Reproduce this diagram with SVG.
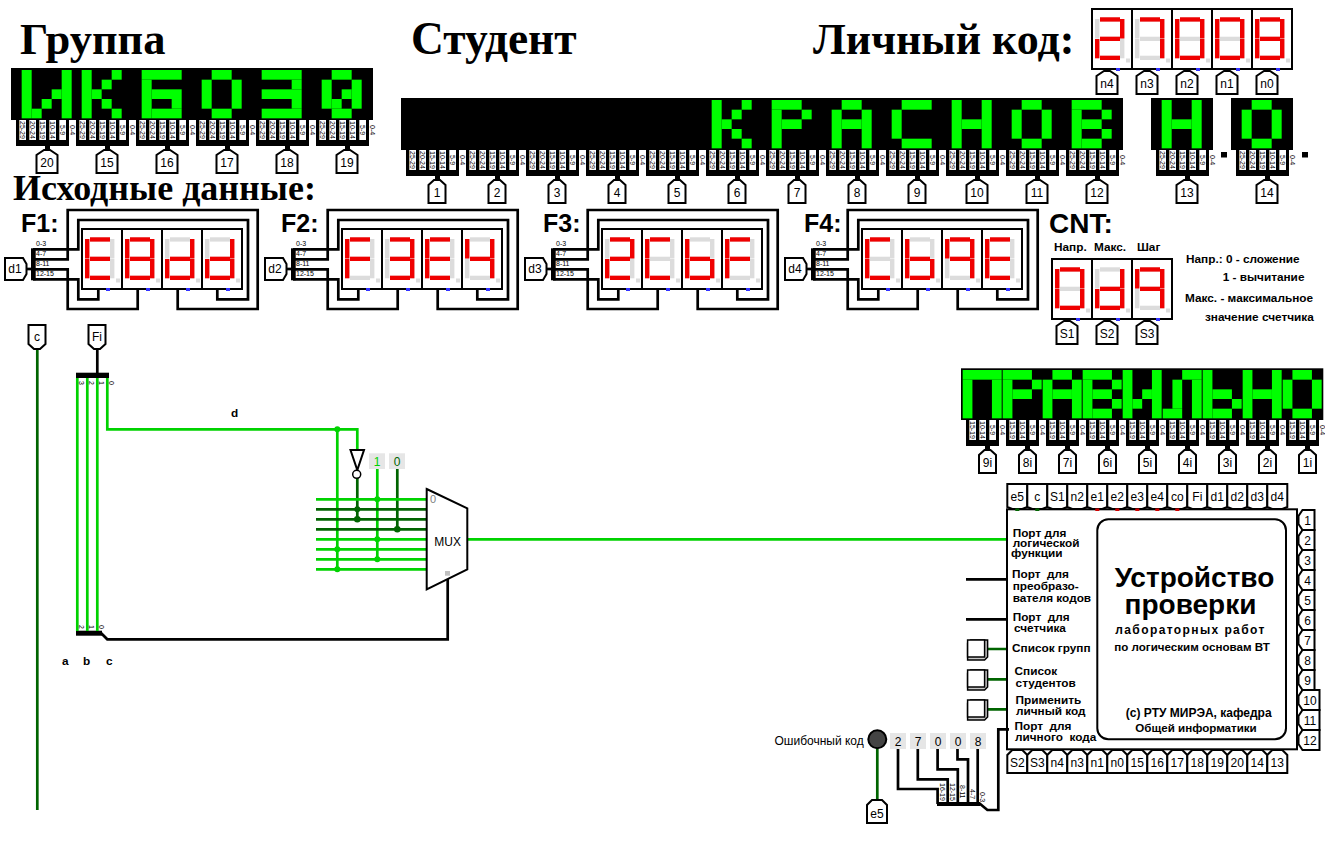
<svg xmlns="http://www.w3.org/2000/svg" width="1325" height="868" viewBox="0 0 1325 868">
<style>
text{font-family:"Liberation Sans",Arial,sans-serif;fill:#000;white-space:pre}
.t{font-family:"Liberation Serif","Times New Roman",serif;font-weight:bold}
.b{font-weight:bold}
.dv{font-size:11.8px;font-weight:bold}
.l{font-size:12px;text-anchor:middle}
.s{font-size:7px}
.w,.g,.dg{fill:none;stroke-width:2.7}
.w{stroke:#000}.g{stroke:#00d200}.dg{stroke:#006400}
.f{fill:#0f0}.gj{fill:#00d200}.dj{fill:#006400}
.p{fill:#fff;stroke:#000;stroke-width:2}
.on{fill:#f00000}.off{fill:#dcdcdc}
</style>
<defs>
<!-- seven segment -->
<rect id="sa" x="8" y="8.3" width="20" height="4.3"/>
<rect id="sb" x="28" y="10" width="4.4" height="19.5"/>
<rect id="sc" x="28" y="30" width="4.4" height="19.3"/>
<rect id="sd" x="8" y="46.7" width="20" height="4.3"/>
<rect id="se" x="3" y="30" width="4.4" height="19.3"/>
<rect id="sf" x="3" y="10" width="4.4" height="19.5"/>
<rect id="sg" x="8" y="27.7" width="20" height="4.3"/>
<g id="base">
<rect width="40" height="60" fill="#fff" stroke="#000" stroke-width="2"/>
<g class="off"><use href="#sa"/><use href="#sb"/><use href="#sc"/><use href="#sd"/><use href="#se"/><use href="#sf"/><use href="#sg"/><rect x="34" y="49.5" width="4" height="4"/></g>
<rect x="24" y="59" width="4" height="3" fill="#3333ff"/>
</g>
<g id="D0"><use href="#base"/><g class="on"><use href="#sa"/><use href="#sb"/><use href="#sc"/><use href="#sd"/><use href="#se"/><use href="#sf"/></g></g>
<g id="D2"><use href="#base"/><g class="on"><use href="#sa"/><use href="#sb"/><use href="#sg"/><use href="#se"/><use href="#sd"/></g></g>
<g id="D3"><use href="#base"/><g class="on"><use href="#sa"/><use href="#sb"/><use href="#sg"/><use href="#sc"/><use href="#sd"/></g></g>
<g id="D4"><use href="#base"/><g class="on"><use href="#sf"/><use href="#sg"/><use href="#sb"/><use href="#sc"/></g></g>
<g id="D7"><use href="#base"/><g class="on"><use href="#sa"/><use href="#sb"/><use href="#sc"/></g></g>
<g id="D8"><use href="#base"/><g class="on"><use href="#sa"/><use href="#sb"/><use href="#sc"/><use href="#sd"/><use href="#se"/><use href="#sf"/><use href="#sg"/></g></g>
<g id="D9"><use href="#base"/><g class="on"><use href="#sa"/><use href="#sb"/><use href="#sc"/><use href="#sf"/><use href="#sg"/></g></g>
<g id="Db"><use href="#base"/><g class="on"><use href="#sf"/><use href="#sg"/><use href="#se"/><use href="#sd"/><use href="#sc"/></g></g>
<g id="DC"><use href="#base"/><g class="on"><use href="#sa"/><use href="#sf"/><use href="#se"/><use href="#sd"/></g></g>
<g id="Dd"><use href="#base"/><g class="on"><use href="#sb"/><use href="#sc"/><use href="#sg"/><use href="#se"/><use href="#sd"/></g></g>
<g id="DE"><use href="#base"/><g class="on"><use href="#sa"/><use href="#sf"/><use href="#sg"/><use href="#se"/><use href="#sd"/></g></g>
<g id="DF"><use href="#base"/><g class="on"><use href="#sa"/><use href="#sf"/><use href="#sg"/><use href="#se"/></g></g>
<!-- LED matrix cells -->
<g id="mI5" class="f"><rect width="1" height="5"/><rect x="1" y="4" width="1" height="1"/><rect x="2" y="3" width="1" height="1"/><rect x="3" y="2" width="1" height="1"/><rect x="4" width="1" height="5"/></g>
<g id="mI" class="f"><rect width="1" height="5"/><rect x="3" width="1" height="5"/><rect x="2" y="2" width="1" height="1"/><rect x="1" y="3" width="1" height="1"/></g>
<g id="mK" class="f"><rect width="1" height="5"/><rect x="3" width="1" height="1"/><rect x="2" y="1" width="1" height="1"/><rect x="1" y="2" width="1" height="1"/><rect x="2" y="3" width="1" height="1"/><rect x="3" y="4" width="1" height="1"/></g>
<g id="m6" class="f"><rect width="4" height="1"/><rect y="1" width="1" height="4"/><rect x="1" y="2" width="3" height="1"/><rect x="3" y="3" width="1" height="1"/><rect x="1" y="4" width="3" height="1"/></g>
<g id="mO" class="f"><rect x="1" width="2" height="1"/><rect y="1" width="1" height="3"/><rect x="3" y="1" width="1" height="3"/><rect x="1" y="4" width="2" height="1"/></g>
<g id="mZ" class="f"><rect width="4" height="1"/><rect x="3" y="1" width="1" height="1"/><rect y="2" width="4" height="1"/><rect x="3" y="3" width="1" height="1"/><rect y="4" width="4" height="1"/></g>
<g id="mQ"><use href="#mO"/><g class="f"><rect x="2" y="2" width="1" height="1"/><rect x="1" y="3" width="1" height="1"/></g></g>
<g id="mR" class="f"><rect width="3" height="1"/><rect x="3" y="1" width="1" height="1"/><rect y="1" width="1" height="4"/><rect x="1" y="2" width="2" height="1"/></g>
<g id="mA" class="f"><rect x="1" width="2" height="1"/><rect y="1" width="1" height="4"/><rect x="3" y="1" width="1" height="4"/><rect x="1" y="2" width="2" height="1"/></g>
<g id="mC" class="f"><rect x="1" width="3" height="1"/><rect y="1" width="1" height="3"/><rect x="1" y="4" width="3" height="1"/></g>
<g id="mH" class="f"><rect width="1" height="5"/><rect x="3" width="1" height="5"/><rect x="1" y="2" width="2" height="1"/></g>
<g id="mB" class="f"><rect width="3" height="1"/><rect y="1" width="1" height="4"/><rect x="3" y="1" width="1" height="1"/><rect x="1" y="2" width="2" height="1"/><rect x="3" y="3" width="1" height="1"/><rect x="1" y="4" width="2" height="1"/></g>
<g id="mP" class="f"><rect width="4" height="1"/><rect y="1" width="1" height="4"/><rect x="3" y="1" width="1" height="4"/></g>
<g id="mL" class="f"><rect x="2" width="2" height="1"/><rect x="1" y="1" width="1" height="3"/><rect x="3" y="1" width="1" height="4"/><rect y="4" width="2" height="1"/></g>
<g id="mS" class="f"><rect width="1" height="5"/><rect x="1" y="2" width="2" height="1"/><rect x="3" y="3" width="1" height="1"/><rect x="1" y="4" width="2" height="1"/></g>
<!-- pin blocks -->
<g id="pins6">
<rect width="53" height="26"/><rect x="29" y="26" width="5" height="4"/>
<g fill="#fff"><rect x="3.3" width="6.7" height="20"/><rect x="13.3" width="6.7" height="20"/><rect x="23.3" width="6.7" height="20"/><rect x="33.3" width="6.7" height="20"/><rect x="43.3" width="6.7" height="20"/></g>
<g class="s"><text transform="translate(4.3,1) rotate(90)">25-29</text><text transform="translate(14.3,1) rotate(90)">20-24</text><text transform="translate(24.3,1) rotate(90)">15-19</text><text transform="translate(34.3,1) rotate(90)">10-14</text><text transform="translate(44.3,5) rotate(90)">5-9</text><text transform="translate(54.3,5) rotate(90)">0-4</text></g>
</g>
<g id="pins4">
<rect width="33" height="26"/><rect x="19" y="26" width="5" height="4"/>
<g fill="#fff"><rect x="3.3" width="6.7" height="20"/><rect x="13.3" width="6.7" height="20"/><rect x="23.3" width="6.7" height="20"/></g>
<g class="s"><text transform="translate(4.3,1) rotate(90)">15-19</text><text transform="translate(14.3,1) rotate(90)">10-14</text><text transform="translate(24.3,5) rotate(90)">5-9</text><text transform="translate(34.3,5) rotate(90)">0-4</text></g>
</g>
<!-- tunnels -->
<polygon id="tu" class="p" points="-8.5,23 -8.5,5 -3,0 3,0 8.5,5 8.5,23"/>
<polygon id="tw" class="p" points="-10.5,23 -10.5,5 -3,0 3,0 10.5,5 10.5,23"/>
<polygon id="tb" class="p" points="-10,0 -10,23 -5,25 5,25 10,23 10,0"/>
<polygon id="tB" class="p" points="-10,23 -10,5 -5,0 5,0 10,5 10,23"/>
<polygon id="tr" class="p" points="16,-10 4,-10 0,-4 0,4 4,10 16,10"/>
<polygon id="tR" class="p" points="21,-10 4,-10 0,-4 0,4 4,10 21,10"/>
<polygon id="td" class="p" points="-8.5,0 -8.5,19 -3,24 3,24 8.5,19 8.5,0"/>
<!-- F block wires -->
<g id="fb">
<g class="w">
<path d="M33 249.3H78.3V220H248V299.3H217.3V290"/>
<path d="M33 259.3H67.7V210H257.7V309H177.7V290"/>
<path d="M33 269.3H67.7V309H137.7V290"/>
<path d="M33 279.3H78.3V299.3H98.3V290"/>
<path d="M26 269H33"/>
</g>
<rect x="31" y="248.3" width="4.7" height="32"/>
<g class="s"><text x="36" y="245.5">0-3</text><text x="36" y="255.5">4-7</text><text x="36" y="265.5">8-11</text><text x="36" y="275.5">12-15</text></g>
</g>
<g id="btn"><polygon points="0,3 3,0 20,0 20,17 17,20 0,20" fill="#c8c8c8" stroke="#000" stroke-width="1.5"/><rect x="0" y="0" width="17" height="17" fill="#fff" stroke="#000" stroke-width="1.5"/></g>
</defs>

<rect width="1325" height="868" fill="#fff"/>

<g id="titles">
<text class="t" x="20" y="54" font-size="44.5">Группа</text>
<text class="t" x="411" y="54" font-size="45.5">Студент</text>
<text class="t" x="813" y="54" font-size="44">Личный код:</text>
<text class="t" x="13" y="200" font-size="36">Исходные данные:</text>
<text class="b" x="21" y="231.7" font-size="25">F1:</text>
<text class="b" x="281" y="231.7" font-size="25">F2:</text>
<text class="b" x="543" y="231.7" font-size="25">F3:</text>
<text class="b" x="804" y="231.7" font-size="25">F4:</text>
<text class="b" x="1049" y="233" font-size="28">CNT:</text>
<text class="dv" x="1054" y="251">Напр.</text>
<text class="dv" x="1094" y="251">Макс.</text>
<text class="dv" x="1137" y="251">Шаг</text>
<text class="dv" x="1186" y="263">Напр.: 0 - сложение</text>
<text class="dv" x="1222.7" y="281">1 - вычитание</text>
<text class="dv" x="1185" y="301.7">Макс. - максимальное</text>
<text class="dv" x="1205" y="320.7">значение счетчика</text>
<text class="dv" x="231" y="417">d</text>
<text class="dv" x="62" y="665">a</text>
<text class="dv" x="83" y="665">b</text>
<text class="dv" x="106" y="665">c</text>
</g>

<g id="connectors">
<path class="dg" d="M37.3 348V810"/>
<path class="w" d="M97.3 348V374"/>
<rect x="76" y="372.7" width="33" height="5.3"/>
<rect x="76" y="630.7" width="26" height="5"/>
<path class="g" d="M77.3 378V631M87.3 378V631M97.3 378V631"/>
<path class="g" d="M107.3 378V429.3H357.3V450"/>
<path class="w" d="M101 633L107.3 639.3H447.7V575"/>
<g class="s"><text transform="translate(79,381) rotate(90)">3</text><text transform="translate(89,381) rotate(90)">2</text><text transform="translate(99,381) rotate(90)">1</text><text transform="translate(109,381) rotate(90)">0</text><text transform="translate(79,625) rotate(90)">2</text><text transform="translate(89,625) rotate(90)">1</text><text transform="translate(99,625) rotate(90)">0</text></g>
<path class="g" d="M337.3 429.3V569.3M377.3 468V559.3"/>
<path class="dg" d="M357.3 478V519.3M397.3 468V529.3"/>
<path class="g" d="M316 499.3H428.3M316 539.3H428.3M316 549.3H428.3M316 559.3H428.3M316 569.3H428.3"/>
<path class="dg" d="M316 509.3H428.3M316 519.3H428.3M316 529.3H428.3"/>
<g class="gj"><circle cx="337.3" cy="429.3" r="3"/><circle cx="377.3" cy="499.3" r="3"/><circle cx="377.3" cy="539.3" r="3"/><circle cx="337.3" cy="549.3" r="3"/><circle cx="377.3" cy="559.3" r="3"/><circle cx="337.3" cy="569.3" r="3"/></g>
<g class="dj"><circle cx="357.3" cy="509.3" r="3"/><circle cx="357.3" cy="519.3" r="3.3"/><circle cx="397.3" cy="529.3" r="3.3"/></g>
<path class="g" d="M467.3 539.3H1008"/>
<path class="w" d="M966 579.3H1008M966 619.3H1008"/>
<path class="dg" d="M987 649H1008M987 679.3H1008M987 709.3H1008M877.3 749V801"/>
<path class="w" d="M898 749V789H937.6V804M917.8 749V779.3H947.7V804M937.6 749V769.3H957.8V804M957.5 749V759.3H968V804M977.7 749V804"/>
<rect x="937" y="802" width="43" height="4"/>
<path class="w" d="M979 803L987.4 810H998.3V729.3H1009"/>
<g class="s"><text transform="translate(939.5,783) rotate(90)">16-19</text><text transform="translate(949.5,783) rotate(90)">12-15</text><text transform="translate(959.5,785) rotate(90)">8-11</text><text transform="translate(969.5,789) rotate(90)">4-7</text><text transform="translate(980,792) rotate(90)">0-3</text></g>
</g>

<g id="group-display">
<rect x="11" y="68" width="362" height="52"/>
<use href="#mI5" transform="translate(21.67,70) scale(10,9.67)"/>
<use href="#mK" transform="translate(81.67,70) scale(10,9.67)"/>
<use href="#m6" transform="translate(141.67,70) scale(10,9.67)"/>
<use href="#mO" transform="translate(201.67,70) scale(10,9.67)"/>
<use href="#mZ" transform="translate(261.67,70) scale(10,9.67)"/>
<use href="#mQ" transform="translate(321.67,70) scale(10,9.67)"/>
<use href="#pins6" x="16" y="120"/><use href="#pins6" x="76" y="120"/><use href="#pins6" x="136" y="120"/><use href="#pins6" x="196" y="120"/><use href="#pins6" x="256" y="120"/><use href="#pins6" x="316" y="120"/>
</g>
<g id="n20"><use href="#tw" x="47" y="150"/><text class="l" x="47" y="167">20</text></g>
<g id="n15"><use href="#tw" x="107" y="150"/><text class="l" x="107" y="167">15</text></g>
<g id="n16"><use href="#tw" x="167" y="150"/><text class="l" x="167" y="167">16</text></g>
<g id="n17"><use href="#tw" x="227" y="150"/><text class="l" x="227" y="167">17</text></g>
<g id="n18"><use href="#tw" x="287" y="150"/><text class="l" x="287" y="167">18</text></g>
<g id="n19"><use href="#tw" x="347" y="150"/><text class="l" x="347" y="167">19</text></g>

<g id="student-display">
<rect x="401" y="98" width="722" height="52"/>
<rect x="1151" y="98" width="62" height="52"/>
<rect x="1231" y="98" width="62" height="52"/>
<use href="#mK" transform="translate(711.67,100) scale(10,9.67)"/>
<use href="#mR" transform="translate(771.67,100) scale(10,9.67)"/>
<use href="#mA" transform="translate(831.67,100) scale(10,9.67)"/>
<use href="#mC" transform="translate(891.67,100) scale(10,9.67)"/>
<use href="#mH" transform="translate(951.67,100) scale(10,9.67)"/>
<use href="#mO" transform="translate(1011.67,100) scale(10,9.67)"/>
<use href="#mB" transform="translate(1071.67,100) scale(10,9.67)"/>
<use href="#mH" transform="translate(1161.67,100) scale(10,9.67)"/>
<use href="#mO" transform="translate(1241.67,100) scale(10,9.67)"/>
<use href="#pins6" x="406" y="150"/><use href="#pins6" x="466" y="150"/><use href="#pins6" x="526" y="150"/><use href="#pins6" x="586" y="150"/><use href="#pins6" x="646" y="150"/><use href="#pins6" x="706" y="150"/><use href="#pins6" x="766" y="150"/><use href="#pins6" x="826" y="150"/><use href="#pins6" x="886" y="150"/><use href="#pins6" x="946" y="150"/><use href="#pins6" x="1006" y="150"/><use href="#pins6" x="1066" y="150"/><use href="#pins6" x="1156" y="150"/><use href="#pins6" x="1236" y="150"/>
<rect x="1221" y="152" width="6" height="5.5"/>
<rect x="1302" y="152" width="6" height="5.5"/>
</g>
<g id="s1"><use href="#tu" x="437" y="180"/><text class="l" x="437" y="197">1</text></g>
<g id="s2"><use href="#tu" x="497" y="180"/><text class="l" x="497" y="197">2</text></g>
<g id="s3"><use href="#tu" x="557" y="180"/><text class="l" x="557" y="197">3</text></g>
<g id="s4"><use href="#tu" x="617" y="180"/><text class="l" x="617" y="197">4</text></g>
<g id="s5"><use href="#tu" x="677" y="180"/><text class="l" x="677" y="197">5</text></g>
<g id="s6"><use href="#tu" x="737" y="180"/><text class="l" x="737" y="197">6</text></g>
<g id="s7"><use href="#tu" x="797" y="180"/><text class="l" x="797" y="197">7</text></g>
<g id="s8"><use href="#tu" x="857" y="180"/><text class="l" x="857" y="197">8</text></g>
<g id="s9"><use href="#tu" x="917" y="180"/><text class="l" x="917" y="197">9</text></g>
<g id="s10"><use href="#tw" x="977" y="180"/><text class="l" x="977" y="197">10</text></g>
<g id="s11"><use href="#tw" x="1037" y="180"/><text class="l" x="1037" y="197">11</text></g>
<g id="s12"><use href="#tw" x="1097" y="180"/><text class="l" x="1097" y="197">12</text></g>
<g id="s13"><use href="#tw" x="1187" y="180"/><text class="l" x="1187" y="197">13</text></g>
<g id="s14"><use href="#tw" x="1267" y="180"/><text class="l" x="1267" y="197">14</text></g>

<g id="personal-code"><use href="#D2" x="1092" y="9"/><use href="#D7" x="1132" y="9"/><use href="#D0" x="1172" y="9"/><use href="#D0" x="1212" y="9"/><use href="#D8" x="1252" y="9"/></g>
<g id="n4"><use href="#tw" x="1107" y="71"/><text class="l" x="1107" y="88">n4</text></g>
<g id="n3"><use href="#tw" x="1147" y="71"/><text class="l" x="1147" y="88">n3</text></g>
<g id="n2"><use href="#tw" x="1187" y="71"/><text class="l" x="1187" y="88">n2</text></g>
<g id="n1"><use href="#tw" x="1227" y="71"/><text class="l" x="1227" y="88">n1</text></g>
<g id="n0"><use href="#tw" x="1267" y="71"/><text class="l" x="1267" y="88">n0</text></g>

<g id="F1"><use href="#fb"/><use href="#DE" x="82" y="229"/><use href="#D8" x="122" y="229"/><use href="#Dd" x="162" y="229"/><use href="#Dd" x="202" y="229"/><polygon class="p" points="5,258 23,258 26.5,264 26.5,274 23,280 5,280"/><text class="l" x="15" y="273">d1</text></g>
<g id="F2" transform="translate(260)"><use href="#fb"/><use href="#DF" x="82" y="229"/><use href="#D3" x="122" y="229"/><use href="#DE" x="162" y="229"/><use href="#D4" x="202" y="229"/><polygon class="p" points="5,258 23,258 26.5,264 26.5,274 23,280 5,280"/><text class="l" x="15" y="273">d2</text></g>
<g id="F3" transform="translate(520)"><use href="#fb"/><use href="#D2" x="82" y="229"/><use href="#DC" x="122" y="229"/><use href="#Db" x="162" y="229"/><use href="#DF" x="202" y="229"/><polygon class="p" points="5,258 23,258 26.5,264 26.5,274 23,280 5,280"/><text class="l" x="15" y="273">d3</text></g>
<g id="F4" transform="translate(780)"><use href="#fb"/><use href="#DC" x="82" y="229"/><use href="#Db" x="122" y="229"/><use href="#D9" x="162" y="229"/><use href="#DE" x="202" y="229"/><polygon class="p" points="5,258 23,258 26.5,264 26.5,274 23,280 5,280"/><text class="l" x="15" y="273">d4</text></g>

<g id="CNT"><use href="#D0" x="1052" y="259"/><use href="#Dd" x="1092" y="259"/><use href="#D9" x="1132" y="259"/></g>
<g id="S1"><use href="#tw" x="1067" y="321"/><text class="l" x="1067" y="338">S1</text></g>
<g id="S2"><use href="#tw" x="1107" y="321"/><text class="l" x="1107" y="338">S2</text></g>
<g id="S3"><use href="#tw" x="1147" y="321"/><text class="l" x="1147" y="338">S3</text></g>

<g id="c"><use href="#td" x="37" y="325"/><text class="l" x="37" y="341">c</text></g>
<g id="Fi"><use href="#td" x="97" y="325"/><text class="l" x="97" y="341">Fi</text></g>

<g id="inverter"><polygon points="350.5,450 364,450 357.3,470" fill="#fff" stroke="#000" stroke-width="2"/><circle cx="356.7" cy="474.3" r="4" fill="#fff" stroke="#000" stroke-width="1.5"/></g>
<g id="const-1"><rect x="369" y="453.3" width="16" height="15.7" fill="#e6e6e6"/><text class="l" x="377" y="466" style="fill:#00d200">1</text></g>
<g id="const-0"><rect x="389" y="453.3" width="16" height="15.7" fill="#e6e6e6"/><text class="l" x="397" y="466" style="fill:#006400">0</text></g>
<g id="mux"><polygon points="426.7,489 467.3,508.3 467.3,569.3 426.7,589.3" fill="#fff" stroke="#000" stroke-width="2"/><text class="l" x="447.7" y="546">MUX</text><text x="430" y="503" font-size="11" style="fill:#808080">0</text><rect x="445" y="571" width="5" height="4.7" fill="#c0c0c0"/></g>

<g id="correct-display">
<rect x="961" y="368.3" width="362.3" height="51.7"/>
<use href="#mP" transform="translate(962.67,370) scale(9.75,9.67)"/>
<use href="#mR" transform="translate(1002.67,370) scale(9.75,9.67)"/>
<use href="#mA" transform="translate(1042.67,370) scale(9.75,9.67)"/>
<use href="#mB" transform="translate(1082.67,370) scale(9.75,9.67)"/>
<use href="#mI" transform="translate(1122.67,370) scale(9.75,9.67)"/>
<use href="#mL" transform="translate(1162.67,370) scale(9.75,9.67)"/>
<use href="#mS" transform="translate(1202.67,370) scale(9.75,9.67)"/>
<use href="#mH" transform="translate(1242.67,370) scale(9.75,9.67)"/>
<use href="#mO" transform="translate(1282.67,370) scale(9.75,9.67)"/>
<use href="#pins4" x="966" y="420"/><use href="#pins4" x="1006" y="420"/><use href="#pins4" x="1046" y="420"/><use href="#pins4" x="1086" y="420"/><use href="#pins4" x="1126" y="420"/><use href="#pins4" x="1166" y="420"/><use href="#pins4" x="1206" y="420"/><use href="#pins4" x="1246" y="420"/><use href="#pins4" x="1286" y="420"/>
</g>
<g id="t9i"><use href="#tu" x="987.5" y="450"/><text class="l" x="987.5" y="467">9i</text></g>
<g id="t8i"><use href="#tu" x="1027.5" y="450"/><text class="l" x="1027.5" y="467">8i</text></g>
<g id="t7i"><use href="#tu" x="1067.5" y="450"/><text class="l" x="1067.5" y="467">7i</text></g>
<g id="t6i"><use href="#tu" x="1107.5" y="450"/><text class="l" x="1107.5" y="467">6i</text></g>
<g id="t5i"><use href="#tu" x="1147.5" y="450"/><text class="l" x="1147.5" y="467">5i</text></g>
<g id="t4i"><use href="#tu" x="1187.5" y="450"/><text class="l" x="1187.5" y="467">4i</text></g>
<g id="t3i"><use href="#tu" x="1227.5" y="450"/><text class="l" x="1227.5" y="467">3i</text></g>
<g id="t2i"><use href="#tu" x="1267.5" y="450"/><text class="l" x="1267.5" y="467">2i</text></g>
<g id="t1i"><use href="#tu" x="1307.5" y="450"/><text class="l" x="1307.5" y="467">1i</text></g>

<g id="device">
<rect x="1007" y="509.3" width="290" height="240" fill="none" stroke="#000" stroke-width="2"/>
<rect x="1097.3" y="519.3" width="188.7" height="220" rx="11" fill="none" stroke="#000" stroke-width="2"/>
<text class="dv" x="1012.7" y="536.7">Порт для</text>
<text class="dv" x="1012.7" y="546.7">логической</text>
<text class="dv" x="1011" y="556.7">функции</text>
<text class="dv" x="1012" y="577.7">Порт  для</text>
<text class="dv" x="1012.7" y="590">преобразо-</text>
<text class="dv" x="1012.7" y="601.7">вателя кодов</text>
<text class="dv" x="1012.7" y="621">Порт  для</text>
<text class="dv" x="1014" y="631.7">счетчика</text>
<text class="dv" x="1012" y="652">Список групп</text>
<text class="dv" x="1014.5" y="675">Список</text>
<text class="dv" x="1015.6" y="686.7">студентов</text>
<text class="dv" x="1015.6" y="704">Применить</text>
<text class="dv" x="1016" y="715">личный код</text>
<text class="dv" x="1014.5" y="730">Порт  для</text>
<text class="dv" x="1015" y="741">личного  кода</text>
<g text-anchor="middle" font-weight="bold">
<text x="1194.5" y="587" font-size="28">Устройство</text>
<text x="1190.5" y="613.5" font-size="28">проверки</text>
<text x="1190.5" y="634.3" font-size="12" letter-spacing="1.4">лабораторных работ</text>
<text x="1192" y="650.7" font-size="11.6">по логическим основам ВТ</text>
<text x="1198.7" y="717.3" font-size="12">(c) РТУ МИРЭА, кафедра</text>
<text x="1196" y="732" font-size="11.6">Общей информатики</text>
</g>
</g>

<g id="t-e5"><use href="#tb" x="1017.3" y="484"/><text class="l" x="1017.3" y="501">e5</text></g>
<g id="t-c"><use href="#tb" x="1037.3" y="484"/><text class="l" x="1037.3" y="501">c</text></g>
<g id="t-S1"><use href="#tb" x="1057.3" y="484"/><text class="l" x="1057.3" y="501">S1</text></g>
<g id="t-n2"><use href="#tb" x="1077.3" y="484"/><text class="l" x="1077.3" y="501">n2</text></g>
<g id="t-e1"><use href="#tb" x="1097.3" y="484"/><text class="l" x="1097.3" y="501">e1</text></g>
<g id="t-e2"><use href="#tb" x="1117.3" y="484"/><text class="l" x="1117.3" y="501">e2</text></g>
<g id="t-e3"><use href="#tb" x="1137.3" y="484"/><text class="l" x="1137.3" y="501">e3</text></g>
<g id="t-e4"><use href="#tb" x="1157.3" y="484"/><text class="l" x="1157.3" y="501">e4</text></g>
<g id="t-co"><use href="#tb" x="1177.3" y="484"/><text class="l" x="1177.3" y="501">co</text></g>
<g id="t-Fi"><use href="#tb" x="1197.3" y="484"/><text class="l" x="1197.3" y="501">Fi</text></g>
<g id="t-d1"><use href="#tb" x="1217.3" y="484"/><text class="l" x="1217.3" y="501">d1</text></g>
<g id="t-d2"><use href="#tb" x="1237.3" y="484"/><text class="l" x="1237.3" y="501">d2</text></g>
<g id="t-d3"><use href="#tb" x="1257.3" y="484"/><text class="l" x="1257.3" y="501">d3</text></g>
<g id="t-d4"><use href="#tb" x="1277.3" y="484"/><text class="l" x="1277.3" y="501">d4</text></g>
<g id="port-dots"><rect x="1015.3" y="508.5" width="4" height="2.5" class="dj"/><rect x="1035.3" y="508.5" width="4" height="2.5" class="dj"/><g fill="#d00000"><rect x="1095.3" y="508.5" width="4" height="2.5"/><rect x="1115.3" y="508.5" width="4" height="2.5"/><rect x="1135.3" y="508.5" width="4" height="2.5"/><rect x="1155.3" y="508.5" width="4" height="2.5"/><rect x="1175.3" y="508.5" width="4" height="2.5"/></g></g>

<g id="r1"><use href="#tr" x="1298.5" y="520"/><text class="l" x="1307.5" y="524.5">1</text></g>
<g id="r2"><use href="#tr" x="1298.5" y="540"/><text class="l" x="1307.5" y="544.5">2</text></g>
<g id="r3"><use href="#tr" x="1298.5" y="560"/><text class="l" x="1307.5" y="564.5">3</text></g>
<g id="r4"><use href="#tr" x="1298.5" y="580"/><text class="l" x="1307.5" y="584.5">4</text></g>
<g id="r5"><use href="#tr" x="1298.5" y="600"/><text class="l" x="1307.5" y="604.5">5</text></g>
<g id="r6"><use href="#tr" x="1298.5" y="620"/><text class="l" x="1307.5" y="624.5">6</text></g>
<g id="r7"><use href="#tr" x="1298.5" y="640"/><text class="l" x="1307.5" y="644.5">7</text></g>
<g id="r8"><use href="#tr" x="1298.5" y="660"/><text class="l" x="1307.5" y="664.5">8</text></g>
<g id="r9"><use href="#tr" x="1298.5" y="680"/><text class="l" x="1307.5" y="684.5">9</text></g>
<g id="r10"><use href="#tR" x="1298.5" y="700"/><text class="l" x="1310" y="704.5">10</text></g>
<g id="r11"><use href="#tR" x="1298.5" y="720"/><text class="l" x="1310" y="724.5">11</text></g>
<g id="r12"><use href="#tR" x="1298.5" y="740"/><text class="l" x="1310" y="744.5">12</text></g>

<g id="b-S2"><use href="#tB" x="1017.3" y="750"/><text class="l" x="1017.3" y="767">S2</text></g>
<g id="b-S3"><use href="#tB" x="1037.3" y="750"/><text class="l" x="1037.3" y="767">S3</text></g>
<g id="b-n4"><use href="#tB" x="1057.3" y="750"/><text class="l" x="1057.3" y="767">n4</text></g>
<g id="b-n3"><use href="#tB" x="1077.3" y="750"/><text class="l" x="1077.3" y="767">n3</text></g>
<g id="b-n1"><use href="#tB" x="1097.3" y="750"/><text class="l" x="1097.3" y="767">n1</text></g>
<g id="b-n0"><use href="#tB" x="1117.3" y="750"/><text class="l" x="1117.3" y="767">n0</text></g>
<g id="b-15"><use href="#tB" x="1137.3" y="750"/><text class="l" x="1137.3" y="767">15</text></g>
<g id="b-16"><use href="#tB" x="1157.3" y="750"/><text class="l" x="1157.3" y="767">16</text></g>
<g id="b-17"><use href="#tB" x="1177.3" y="750"/><text class="l" x="1177.3" y="767">17</text></g>
<g id="b-18"><use href="#tB" x="1197.3" y="750"/><text class="l" x="1197.3" y="767">18</text></g>
<g id="b-19"><use href="#tB" x="1217.3" y="750"/><text class="l" x="1217.3" y="767">19</text></g>
<g id="b-20"><use href="#tB" x="1237.3" y="750"/><text class="l" x="1237.3" y="767">20</text></g>
<g id="b-14"><use href="#tB" x="1257.3" y="750"/><text class="l" x="1257.3" y="767">14</text></g>
<g id="b-13"><use href="#tB" x="1277.3" y="750"/><text class="l" x="1277.3" y="767">13</text></g>

<g id="btn-groups"><use href="#btn" x="967.6" y="640"/></g>
<g id="btn-students"><use href="#btn" x="967.6" y="670"/></g>
<g id="btn-apply"><use href="#btn" x="967.6" y="700"/></g>

<g id="led"><text x="774.5" y="745" font-size="12">Ошибочный код</text><circle cx="877.3" cy="739.3" r="9" fill="#444" stroke="#000" stroke-width="2"/></g>
<g id="code-consts" fill="#e6e6e6"><rect x="890" y="733" width="16" height="16"/><rect x="910" y="733" width="16" height="16"/><rect x="930" y="733" width="16" height="16"/><rect x="950" y="733" width="16" height="16"/><rect x="970" y="733" width="16" height="16"/>
<text class="l" x="898" y="745.5">2</text><text class="l" x="918" y="745.5">7</text><text class="l" x="938" y="745.5">0</text><text class="l" x="958" y="745.5">0</text><text class="l" x="978" y="745.5">8</text></g>
<g id="e5"><use href="#tB" x="877" y="800"/><text class="l" x="877" y="818">e5</text></g>
</svg>
